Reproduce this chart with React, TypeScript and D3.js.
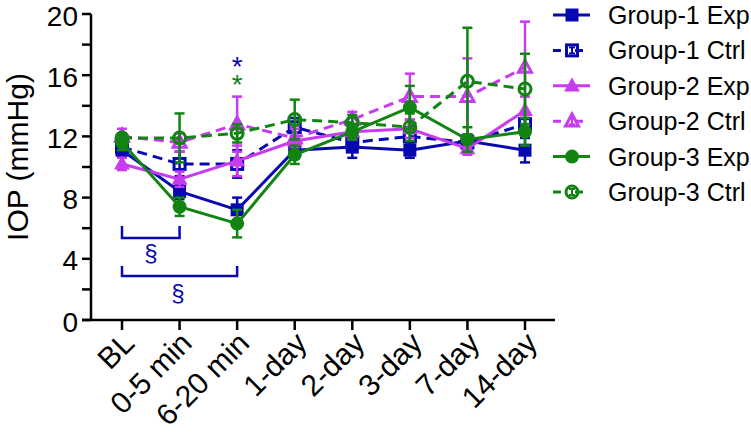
import React from "react";
import * as d3 from "d3";

const categories = ["BL", "0-5 min", "6-20 min", "1-day", "2-day", "3-day", "7-day", "14-day"];
const yTicks = [0, 4, 8, 12, 16, 20];
const yMinor = [2, 6, 10, 14, 18];

const seriesNames = ["Group-1 Exp", "Group-1 Ctrl", "Group-2 Exp", "Group-2 Ctrl", "Group-3 Exp", "Group-3 Ctrl"];
const g1ExpMean = [11.1, 8.4, 7.2, 11.1, 11.3, 11.1, 11.7, 11.1];
const g1ExpErr = [0.4, 0.5, 0.8, 0.5, 0.7, 0.5, 0.4, 0.8];
const g1CtrlMean = [11.3, 10.2, 10.2, 12.6, 11.6, 12.0, 11.6, 12.8];
const g1CtrlErr = [0.5, 0.8, 0.9, 0.6, 0.5, 0.6, 0.5, 0.6];
const g2ExpMean = [10.2, 9.2, 10.4, 11.7, 12.3, 12.5, 11.2, 13.7];
const g2ExpErr = [0.4, 0.5, 1.0, 1.0, 0.5, 0.6, 0.4, 0.9];
const g2CtrlMean = [12.0, 11.6, 12.8, 11.9, 13.1, 14.6, 14.6, 16.5];
const g2CtrlErr = [0.5, 0.6, 1.8, 0.6, 0.5, 1.5, 2.5, 3.0];
const g3ExpMean = [11.6, 7.4, 6.3, 10.8, 12.3, 13.9, 11.8, 12.3];
const g3ExpErr = [0.5, 0.6, 0.9, 0.6, 0.5, 1.4, 0.8, 0.9];
const g3CtrlMean = [11.9, 11.9, 12.2, 13.1, 12.9, 12.6, 15.6, 15.1];
const g3CtrlErr = [0.3, 1.6, 0.6, 1.3, 0.5, 0.9, 3.5, 2.3];

const BLUE = "#0808b0";
const MAGENTA = "#c83cf0";
const GREEN = "#128412";
const FONT = "'Liberation Sans', Arial, sans-serif";

type Shape = "square" | "triangle" | "circle";
const series = [
  { name: seriesNames[0], mean: g1ExpMean, err: g1ExpErr, color: BLUE, shape: "square" as Shape, open: false },
  { name: seriesNames[1], mean: g1CtrlMean, err: g1CtrlErr, color: BLUE, shape: "square" as Shape, open: true },
  { name: seriesNames[2], mean: g2ExpMean, err: g2ExpErr, color: MAGENTA, shape: "triangle" as Shape, open: false },
  { name: seriesNames[3], mean: g2CtrlMean, err: g2CtrlErr, color: MAGENTA, shape: "triangle" as Shape, open: true },
  { name: seriesNames[4], mean: g3ExpMean, err: g3ExpErr, color: GREEN, shape: "circle" as Shape, open: false },
  { name: seriesNames[5], mean: g3CtrlMean, err: g3CtrlErr, color: GREEN, shape: "circle" as Shape, open: true },
];

function Marker({ x, y, shape, color, open }: { x: number; y: number; shape: Shape; color: string; open: boolean }) {
  const fill = open ? "none" : color;
  const sw = open ? 3 : 0;
  if (shape === "square") {
    const s = open ? 11 : 13;
    return <rect x={x - s / 2} y={y - s / 2} width={s} height={s} fill={fill} stroke={color} strokeWidth={sw} />;
  }
  if (shape === "circle") {
    const r = open ? 6 : 7;
    return <circle cx={x} cy={y} r={r} fill={fill} stroke={color} strokeWidth={sw} />;
  }
  const h = open ? 12 : 14;
  const w = open ? 13 : 16;
  const pts = `${x},${y - h * 0.6} ${x + w / 2},${y + h * 0.4} ${x - w / 2},${y + h * 0.4}`;
  return <polygon points={pts} fill={fill} stroke={color} strokeWidth={sw} strokeLinejoin="miter" />;
}

export default function App() {
  const W = 751;
  const H = 437;
  const x = d3.scalePoint<string>().domain(categories).range([122, 525]);
  const y = d3.scaleLinear().domain([0, 20]).range([320, 14]);
  const line = d3
    .line<number>()
    .x((_, i) => x(categories[i]) as number)
    .y((d) => y(d));

  const legendY = d3.scaleLinear().domain([0, 5]).range([15, 192]);
  const starX = x(categories[2]) as number;

  return (
    <svg width={W} height={H} style={{ position: "absolute", left: 0, top: 0, background: "#fff" }} fontFamily={FONT}>
      <rect width={W} height={H} fill="#fff" />
      {/* axes */}
      <line x1={91} x2={91} y1={y(20)} y2={320} stroke="#000" strokeWidth={2.5} />
      <line x1={82} x2={555} y1={320} y2={320} stroke="#000" strokeWidth={2.5} />
      {[...yTicks, ...yMinor].map((t) => (
        <line key={"yt" + t} x1={82} x2={91} y1={y(t)} y2={y(t)} stroke="#000" strokeWidth={2.5} />
      ))}
      {yTicks.map((t) => (
        <text key={"yl" + t} x={78} y={y(t) + 11.6} textAnchor="end" fontSize={28} fill="#000">
          {t}
        </text>
      ))}
      {categories.map((c) => (
        <g key={c}>
          <line x1={x(c)} x2={x(c)} y1={320} y2={330} stroke="#000" strokeWidth={2.5} />
          <text
            transform={`translate(${(x(c) as number) + 14},${345}) rotate(-45)`}
            textAnchor="end"
            fontSize={30}
            fill="#000"
          >
            {c}
          </text>
        </g>
      ))}
      <text transform="translate(28,157) rotate(-90)" textAnchor="middle" fontSize={30} fill="#000">
        IOP (mmHg)
      </text>

      {/* series */}
      {series.map((s) => (
        <g key={s.name}>
          <path
            d={line(s.mean) as string}
            fill="none"
            stroke={s.color}
            strokeWidth={3}
            strokeDasharray={s.open ? "10,6" : undefined}
          />
          {s.mean.map((m, i) => {
            const cx = x(categories[i]) as number;
            const y1 = y(m + s.err[i]);
            const y2 = y(m - s.err[i]);
            return (
              <g key={i}>
                <line x1={cx} x2={cx} y1={y1} y2={y2} stroke={s.color} strokeWidth={2.5} />
                <line x1={cx - 5} x2={cx + 5} y1={y1} y2={y1} stroke={s.color} strokeWidth={2.5} />
                <line x1={cx - 5} x2={cx + 5} y1={y2} y2={y2} stroke={s.color} strokeWidth={2.5} />
              </g>
            );
          })}
          {s.mean.map((m, i) => (
            <Marker key={"m" + i} x={x(categories[i]) as number} y={y(m)} shape={s.shape} color={s.color} open={s.open} />
          ))}
        </g>
      ))}

      {/* significance */}
      <text x={starX} y={76} textAnchor="middle" fontSize={28}>
        <tspan fill={BLUE}>*</tspan>
        <tspan x={starX} dy={18} fill={GREEN}>*</tspan>
      </text>
      <path d={`M${x(categories[0])},226 V238 H${x(categories[1])} V226`} fill="none" stroke={BLUE} strokeWidth={2.5} />
      <text x={151} y={253} dy="0.35em" textAnchor="middle" fontSize={24} fill={BLUE}>§</text>
      <path d={`M${x(categories[0])},266 V276 H${x(categories[2])} V266`} fill="none" stroke={BLUE} strokeWidth={2.5} />
      <text x={178} y={293} dy="0.35em" textAnchor="middle" fontSize={24} fill={BLUE}>§</text>

      {/* legend */}
      {series.map((s, i) => {
        const ly = legendY(i);
        return (
          <g key={"lg" + i}>
            <line x1={553} x2={590} y1={ly} y2={ly} stroke={s.color} strokeWidth={3} strokeDasharray={s.open ? "8,14" : undefined} />
            {s.open && (
              <g>
                <line x1={572} x2={572} y1={ly - 3} y2={ly + 3} stroke={s.color} strokeWidth={2} />
                <line x1={569} x2={575} y1={ly - 3} y2={ly - 3} stroke={s.color} strokeWidth={2} />
                <line x1={569} x2={575} y1={ly + 3} y2={ly + 3} stroke={s.color} strokeWidth={2} />
              </g>
            )}
            <Marker x={572} y={ly} shape={s.shape} color={s.color} open={s.open} />
            <text x={608} y={ly} dy="0.36em" fontSize={25} fill="#000">
              {s.name}
            </text>
          </g>
        );
      })}
    </svg>
  );
}
